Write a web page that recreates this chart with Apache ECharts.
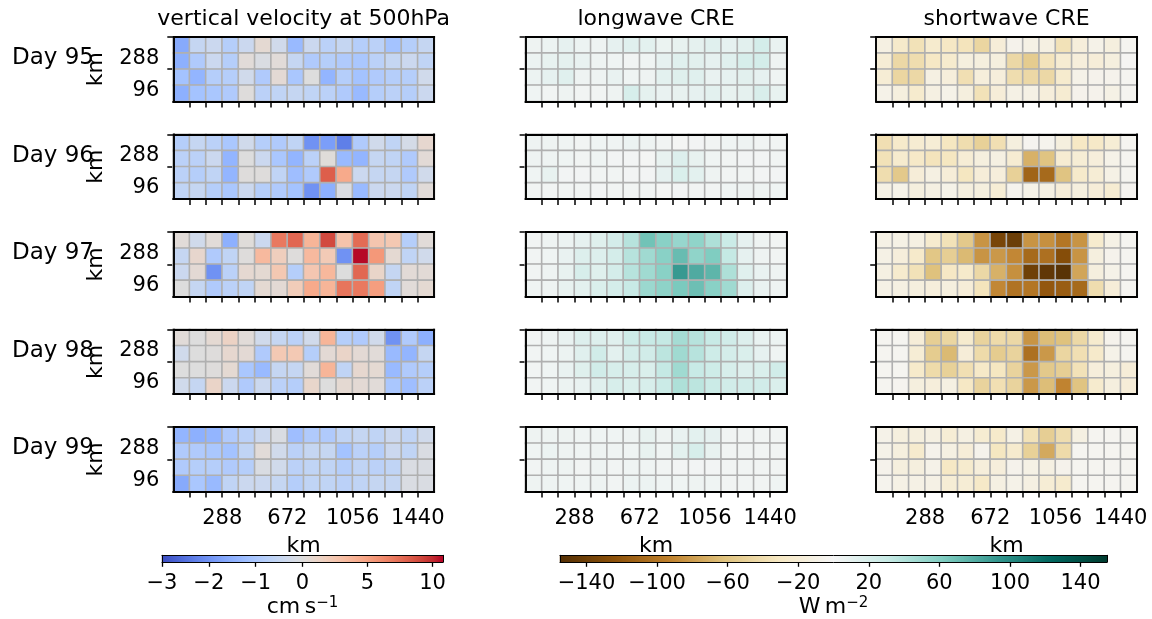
<!DOCTYPE html>
<html>
<head>
<meta charset="utf-8">
<script src="https://cdn.jsdelivr.net/npm/echarts@6/dist/echarts.min.js"></script>
<style>
html, body { margin: 0; padding: 0; background: #fff; }
#main { width: 1152px; height: 619px; }
</style>
</head>
<body>
<div id="main"></div>
<script>
// ---- data: 16 x 4 cells per day, rows listed top (y=288..384 km) to bottom (0..96 km)
var days = ['Day 95', 'Day 96', 'Day 97', 'Day 98', 'Day 99'];
var colTitles = ['vertical velocity at 500hPa', 'longwave CRE', 'shortwave CRE'];
var xTicks = [288, 672, 1056, 1440];
var yTicks = [96, 288];
var wTicksNeg = [-3, -2, -1, 0];
var wTicksPos = [5, 10];
var creTicks = [-140, -100, -60, -20, 20, 60, 100, 140];

// vertical velocity at 500hPa (cm s-1)
var w95 = [
  [-1.6, -0.5, -0.4, -0.8, -0.4, 0.6, -0.3, -1.3, -0.4, -0.7, -0.5, -0.8, -0.7, -1.1, -0.8, -0.5],
  [-1.5, -0.9, -0.4, -0.8, 0.3, -0.1, 0.3, -0.5, -0.9, -0.8, -0.9, -1.0, -0.7, -0.5, -0.4, -0.6],
  [-1.1, -1.4, -0.8, -0.8, -0.3, -0.9, 0.5, -1.0, 0.0, -1.4, -0.8, -1.1, -0.9, -0.8, -0.8, -0.3],
  [-1.5, -1.1, -1.0, -0.9, 0.1, -0.7, -0.6, -0.5, -0.6, -0.7, -0.9, -1.3, -0.8, -0.7, -0.8, -0.4]
];
var w96 = [
  [-0.8, -0.5, -0.7, -1.0, -0.3, -0.8, -0.9, -0.6, -2.0, -1.8, -2.3, -0.9, -0.3, -0.6, -0.2, 0.8],
  [-0.7, -0.7, -0.4, -1.4, 0.0, -0.4, -1.0, -1.4, -0.7, 0.2, -1.3, -1.4, -0.5, -0.6, -0.9, 0.4],
  [-0.7, -0.8, -0.6, -1.4, 0.1, 0.1, -0.6, -1.2, -0.9, 8.2, 4.5, -0.4, -0.5, -0.5, -0.9, -0.3],
  [-0.6, -0.5, -0.8, -1.0, -0.4, -0.8, -0.9, -1.1, -2.0, -1.5, -0.1, -1.3, -0.4, -0.4, -0.6, 0.3]
];
var w97 = [
  [0.3, -0.3, 0.3, -1.5, 0.2, -0.4, 7.0, 7.8, 3.8, 9.0, 2.8, 7.6, 2.6, 2.4, -0.8, 0.3],
  [-0.5, 0.9, -0.9, -0.6, 0.1, 3.5, 1.8, 0.1, 3.5, 2.2, -2.0, 10.7, 5.5, 0.6, -0.6, -0.3],
  [-0.4, 0.5, -2.0, -0.7, 0.7, 0.6, 2.4, -0.8, 2.5, 3.6, 0.0, 7.8, 1.1, -0.5, 0.4, 0.4],
  [0.0, -0.5, -0.9, -0.7, -0.6, 0.6, 0.5, 2.0, 4.5, 3.8, 7.2, 7.0, 5.2, -0.6, 0.3, 0.6]
];
var w98 = [
  [0.3, 0.0, 0.6, 1.4, 0.3, -0.3, -0.5, -0.7, -0.3, 3.8, -0.8, -0.9, -0.3, -2.0, -0.9, -1.5],
  [-0.3, 0.0, 0.1, 0.8, 0.5, -0.9, 2.3, 2.3, -0.8, 0.5, 1.2, 0.5, 0.3, -1.3, -1.4, -0.5],
  [0.0, 0.0, 0.1, 0.6, -1.0, -1.3, -0.5, -0.5, 0.3, 3.8, -0.6, 0.8, 0.6, -1.3, -0.9, -0.8],
  [-0.3, -0.5, 1.2, -0.4, -0.9, -0.4, -0.7, -0.8, 1.0, 0.0, 0.6, 0.5, 0.3, -1.0, -1.2, -0.7]
];
var w99 = [
  [-1.4, -1.5, -1.4, -0.9, -0.7, -0.4, -0.1, -1.2, -0.9, -0.9, -0.6, -0.5, -0.6, -0.4, -0.6, -0.3],
  [-0.9, -0.9, -1.0, -1.1, -0.6, 0.3, -0.3, -0.7, -0.5, -0.5, -1.1, -0.7, -0.8, -0.4, -0.6, -0.1],
  [-0.9, -0.8, -0.8, -0.9, -0.8, -0.1, -0.3, -0.7, -0.6, -0.6, -0.8, -0.6, -0.7, -0.6, -0.1, -0.1],
  [-1.6, -1.0, -1.3, -0.6, -0.4, -0.4, -0.5, -0.8, -0.6, -0.6, -0.7, -0.6, -0.5, -0.5, -0.1, -0.1]
];

// longwave CRE (W m-2)
var lw95 = [
  [5, 6, 10, 6, 5, 10, 14, 12, 7, 9, 11, 14, 10, 13, 22, 8],
  [6, 9, 11, 8, 5, 4, 3, 4, 10, 14, 13, 10, 14, 20, 22, 5],
  [6, 10, 14, 5, 5, 8, 4, 5, 12, 15, 14, 8, 10, 13, 10, 4],
  [4, 3, 5, 3, 3, 5, 20, 11, 8, 9, 10, 12, 9, 11, 19, 9]
];
var lw96 = [
  [5, 5, 4, 3, 4, 4, 6, 5, 3, 1, 2, 3, 4, 5, 3, 3],
  [5, 5, 4, 3, 4, 2, 2, 1, 9, 16, 9, 4, 3, 2, 2, 3],
  [4, 9, 2, 2, 3, 3, 2, 2, 10, 18, 12, 5, 3, 3, 2, 2],
  [3, 3, 3, 3, 2, 3, 3, 3, 1, 2, 3, 3, 4, 5, 5, 4]
];
var lw97 = [
  [3, 5, 6, 10, 15, 22, 38, 68, 58, 52, 55, 42, 28, 10, 5, 3],
  [3, 4, 8, 16, 16, 22, 38, 48, 58, 72, 55, 62, 32, 10, 5, 3],
  [3, 5, 9, 20, 15, 22, 38, 48, 58, 92, 82, 76, 42, 14, 8, 5],
  [4, 5, 9, 12, 18, 22, 30, 50, 56, 64, 70, 58, 48, 16, 8, 5]
];
var lw98 = [
  [3, 5, 8, 16, 16, 14, 26, 30, 32, 46, 38, 30, 24, 16, 8, 6],
  [3, 4, 6, 14, 24, 12, 22, 24, 36, 48, 38, 26, 22, 18, 10, 4],
  [3, 4, 8, 15, 24, 20, 20, 18, 32, 48, 30, 26, 20, 16, 18, 24],
  [3, 4, 6, 8, 14, 20, 18, 20, 28, 42, 36, 28, 24, 24, 24, 18]
];
var lw99 = [
  [5, 5, 5, 4, 4, 4, 5, 9, 5, 8, 12, 10, 3, 3, 3, 3],
  [4, 6, 5, 4, 5, 4, 4, 9, 4, 12, 20, 9, 3, 3, 3, 3],
  [3, 5, 5, 3, 5, 3, 4, 4, 3, 2, 2, 2, 3, 3, 3, 3],
  [5, 5, 4, 4, 5, 3, 6, 6, 4, 4, 5, 4, 3, 3, 3, 4]
];

// shortwave CRE (W m-2)
var sw95 = [
  [-12, -26, -36, -24, -30, -34, -46, -18, -6, -10, -12, -36, -16, -8, -14, -3],
  [-20, -44, -40, -30, -24, -14, -14, -14, -44, -54, -34, -22, -16, -18, -14, -2],
  [-20, -46, -44, -12, -16, -38, -16, -16, -40, -44, -44, -24, -8, -6, -6, -3],
  [-8, -14, -24, -12, -8, -14, -36, -18, -10, -10, -16, -22, -6, -6, -10, -3]
];
var sw96 = [
  [-38, -26, -22, -20, -32, -40, -50, -38, -14, -4, -5, -14, -30, -28, -20, -3],
  [-36, -24, -28, -34, -32, -20, -14, -12, -22, -70, -60, -22, -20, -16, -8, -3],
  [-40, -56, -18, -12, -18, -32, -18, -16, -50, -112, -108, -60, -26, -20, -10, -3],
  [-10, -8, -14, -12, -8, -14, -14, -20, -5, -8, -12, -18, -14, -18, -22, -4]
];
var sw97 = [
  [-10, -10, -12, -24, -36, -56, -84, -135, -142, -84, -86, -100, -84, -24, -10, -3],
  [-10, -16, -26, -58, -52, -66, -84, -82, -90, -108, -104, -128, -84, -14, -6, -3],
  [-12, -24, -36, -62, -30, -26, -44, -70, -86, -140, -148, -152, -76, -14, -8, -3],
  [-10, -12, -14, -16, -14, -18, -34, -90, -102, -100, -120, -116, -108, -40, -18, -3]
];
var sw98 = [
  [-3, -3, -18, -52, -46, -24, -48, -42, -44, -84, -64, -62, -44, -24, -6, -3],
  [-3, -3, -20, -54, -66, -18, -42, -54, -48, -104, -82, -46, -38, -26, -8, -3],
  [-3, -3, -26, -42, -50, -38, -28, -32, -48, -82, -56, -52, -36, -16, -14, -18],
  [-3, -4, -14, -16, -12, -30, -48, -38, -48, -82, -64, -92, -60, -24, -14, -18]
];
var sw99 = [
  [-8, -14, -14, -12, -20, -12, -22, -26, -10, -36, -52, -40, -12, -3, -3, -3],
  [-8, -14, -24, -6, -12, -18, -6, -32, -24, -50, -74, -42, -3, -3, -3, -3],
  [-6, -14, -14, -8, -30, -24, -16, -16, -6, -10, -12, -6, -3, -3, -3, -3],
  [-5, -10, -10, -10, -20, -20, -28, -12, -8, -12, -20, -24, -3, -3, -3, -3]
];

var panels = [
  [w95, lw95, sw95],
  [w96, lw96, sw96],
  [w97, lw97, sw97],
  [w98, lw98, sw98],
  [w99, lw99, sw99]
];

// colour scales
var wNorm = [-3, 0, 10.8];   // vmin, vcenter, vmax (two slope)
var creLimit = 155;
var coolwarm = ['#3b4cc0', '#445acc', '#4d68d7', '#5775e1', '#6282ea', '#6c8ef1', '#779af7', '#82a5fb',
  '#8db0fe', '#98b9ff', '#a3c2ff', '#aec9fd', '#b8d0f9', '#c2d5f4', '#ccd9ee', '#d5dbe6', '#dddddd',
  '#e5d8d1', '#ecd3c5', '#f1ccb9', '#f5c4ad', '#f7bba0', '#f7b194', '#f7a687', '#f49a7b', '#f18d6f',
  '#ec7f63', '#e57058', '#de604d', '#d55042', '#cb3e38', '#c0282f', '#b40426'];
var brbg = ['#543005', '#8c510a', '#bf812d', '#dfc27d', '#f6e8c3', '#f5f5f5', '#c7eae5', '#80cdc1',
  '#35978f', '#01665e', '#003c30'];

function twoSlope(v) {
  if (v < wNorm[1]) return 0.5 * (v - wNorm[0]) / (wNorm[1] - wNorm[0]);
  return 0.5 + 0.5 * (v - wNorm[1]) / (wNorm[2] - wNorm[1]);
}
function twoSlopeInv(t) {
  if (t < 0.5) return wNorm[0] + (wNorm[1] - wNorm[0]) * t / 0.5;
  return wNorm[1] + (wNorm[2] - wNorm[1]) * (t - 0.5) / 0.5;
}

function cells(grid, withNorm) {
  var out = [];
  grid.forEach(function (row, r) {
    row.forEach(function (v, i) {
      var y = grid.length - 1 - r;
      out.push(withNorm ? [i, y, v, twoSlope(v)] : [i, y, v]);
    });
  });
  return out;
}

function fmt(v) {
  return v < 0 ? '\u2212' + Math.abs(v) : String(v);
}

// ---- layout
var colL = [173.3, 525.6, 876.2];
var panelW = 260.8, panelH = 64.4;
var rowT0 = 37, rowStep = 97.55;
var nx = 16, ny = 4, cellKm = 96;
var FONT = 'DejaVu Sans';
var black = '#000';

var spine = { show: true, lineStyle: { color: black, width: 1.9, cap: 'square' } };
var majorTick = { show: true, length: 9, lineStyle: { color: black, width: 1.9 } };
var minorTick = { show: true, length: 6, lineStyle: { color: black, width: 1.5 } };
var tickLabel = { show: true, color: black, fontSize: 21, fontFamily: FONT };

var grids = [], xAxes = [], yAxes = [], series = [], graphics = [];
var wSeries = [], creSeries = [];
var xcats = [], ycats = [];
for (var i = 0; i < nx; i++) xcats.push(String(i * cellKm));
for (var j = 0; j < ny; j++) ycats.push(String(j * cellKm));

function hiddenValue(gi, min, max) {
  return { gridIndex: gi, type: 'value', min: min, max: max, show: false };
}

function addPanel(r, c) {
  var L = colL[c], T = rowT0 + r * rowStep, W = panelW, H = panelH;
  var full = nx * cellKm, fullY = ny * cellKm;
  var px = function (km) { return L + W * km / full; };
  var py = function (km) { return T + H - H * km / fullY; };
  var g = grids.length;
  grids.push({ left: L, top: T, width: W, height: H });
  grids.push({ left: px(96), top: T, width: px(1440) - px(96), height: py(192) - py(384) });
  grids.push({ left: px(xTicks[0]), top: py(yTicks[1]), width: px(xTicks[3]) - px(xTicks[0]), height: py(yTicks[0]) - py(yTicks[1]) });

  var xi = xAxes.length, yi = yAxes.length;
  var lastRow = r === panels.length - 1;
  // spines (box)
  xAxes.push({ gridIndex: g, type: 'category', data: xcats, position: 'bottom', z: 10,
    axisLine: spine, axisTick: { show: false }, axisLabel: { show: false },
    name: lastRow ? 'km' : '', nameLocation: 'middle', nameGap: 44,
    nameTextStyle: { color: black, fontSize: 22, fontFamily: FONT } });
  xAxes.push({ gridIndex: g, type: 'category', data: xcats, position: 'top', z: 10,
    axisLine: spine, axisTick: { show: false }, axisLabel: { show: false } });
  yAxes.push({ gridIndex: g, type: 'category', data: ycats, position: 'left', z: 10,
    axisLine: spine, axisTick: { show: false }, axisLabel: { show: false },
    name: c === 0 ? 'km' : '', nameLocation: 'middle', nameGap: 66, nameRotate: 90,
    nameTextStyle: { color: black, fontSize: 22, fontFamily: FONT } });
  yAxes.push({ gridIndex: g, type: 'category', data: ycats, position: 'right', z: 10,
    axisLine: spine, axisTick: { show: false }, axisLabel: { show: false } });

  // minor ticks every 96 km
  xAxes.push({ gridIndex: g + 1, type: 'value', min: 96, max: 1440, interval: 96, position: 'bottom',
    offset: py(0) - py(192), axisLine: { show: false }, splitLine: { show: false },
    axisTick: minorTick, axisLabel: { show: false } });
  yAxes.push({ gridIndex: g + 1, type: 'value', min: 192, max: 384, interval: 192, position: 'left',
    offset: px(96) - L, axisLine: { show: false }, splitLine: { show: false },
    axisTick: minorTick, axisLabel: { show: false } });

  // major ticks with labels
  xAxes.push({ gridIndex: g + 2, type: 'value', min: 0, max: xTicks[3] - xTicks[0], interval: xTicks[1] - xTicks[0],
    position: 'bottom', offset: py(0) - py(yTicks[0]), axisLine: { show: false }, splitLine: { show: false },
    axisTick: majorTick,
    axisLabel: lastRow ? Object.assign({}, tickLabel, { margin: 16,
      formatter: function (v) { return String(v + xTicks[0]); } }) : { show: false } });
  yAxes.push({ gridIndex: g + 2, type: 'value', min: 0, max: yTicks[1] - yTicks[0], interval: yTicks[1] - yTicks[0],
    position: 'left', offset: px(xTicks[0]) - L, axisLine: { show: false }, splitLine: { show: false },
    axisTick: majorTick,
    axisLabel: c === 0 ? Object.assign({}, tickLabel, { margin: 14,
      rich: { a: { fontSize: 21, fontFamily: FONT, color: black, padding: [10, 0, 0, 0] } },
      formatter: function (v) { return '{a|' + (v + yTicks[0]) + '}'; } }) : { show: false } });

  (c === 0 ? wSeries : creSeries).push(series.length);
  series.push({
    type: 'heatmap', xAxisIndex: xi, yAxisIndex: yi,
    data: cells(panels[r][c], c === 0),
    itemStyle: { borderColor: '#b0b0b0', borderWidth: 1.6 },
    emphasis: { disabled: true }, silent: true, progressive: 0
  });
}

for (var r = 0; r < panels.length; r++) {
  for (var c = 0; c < 3; c++) addPanel(r, c);
}

// titles and day labels
colTitles.forEach(function (t, c) {
  graphics.push({ type: 'text', x: colL[c] + panelW / 2, y: 19,
    style: { text: t, fill: black, font: '22px "' + FONT + '"', align: 'center', verticalAlign: 'middle' } });
});
days.forEach(function (d, r) {
  graphics.push({ type: 'text', x: 12, y: rowT0 + r * rowStep + 21,
    style: { text: d, fill: black, font: '23px "' + FONT + '"', align: 'left', verticalAlign: 'middle' } });
});

// ---- colour bars: heatmap strip (1 px per cell) + frame + tick axes
var cbTop = 555.3, cbH = 7;
var cbTick = { show: true, length: 4.5, lineStyle: { color: black, width: 1.3 } };
var cbLabel = { show: true, color: black, fontSize: 21, fontFamily: FONT, margin: 11 };
var thin = { show: true, lineStyle: { color: black, width: 1 } };
var unitStyle = {
  color: black, fontFamily: FONT,
  rich: {
    n: { fontSize: 22, lineHeight: 22, fontFamily: FONT, color: black },
    s: { fontSize: 15, lineHeight: 15, fontFamily: FONT, color: black, verticalAlign: 'top' }
  }
};

function addBar(left, width, unit, valueAt, isW) {
  var g = grids.length;
  grids.push({ left: left, top: cbTop, width: width, height: cbH });
  var cats = [], data = [];
  for (var k = 0; k < width; k++) {
    cats.push(String(k));
    var t = (k + 0.5) / width;
    data.push(isW ? [k, 0, twoSlopeInv(t), t] : [k, 0, valueAt(t)]);
  }
  var xi = xAxes.length, yi = yAxes.length;
  var none = { axisTick: { show: false }, axisLabel: { show: false } };
  xAxes.push(Object.assign({ gridIndex: g, type: 'category', data: cats, position: 'bottom', z: 10, axisLine: thin,
    name: unit, nameLocation: 'middle', nameGap: 34, nameTextStyle: unitStyle }, none));
  xAxes.push(Object.assign({ gridIndex: g, type: 'category', data: cats, position: 'top', z: 10, axisLine: thin }, none));
  yAxes.push(Object.assign({ gridIndex: g, type: 'category', data: ['0'], position: 'left', z: 10, axisLine: thin }, none));
  yAxes.push(Object.assign({ gridIndex: g, type: 'category', data: ['0'], position: 'right', z: 10, axisLine: thin }, none));
  (isW ? wSeries : creSeries).push(series.length);
  series.push({ type: 'heatmap', xAxisIndex: xi, yAxisIndex: yi, data: data,
    emphasis: { disabled: true }, silent: true, progressive: 0 });
}

function addTickAxis(left, width, min, max, interval, shift, showMin) {
  var g = grids.length;
  grids.push({ left: left, top: cbTop, width: width, height: cbH });
  xAxes.push({ gridIndex: g, type: 'value', min: min, max: max, interval: interval, position: 'bottom',
    axisLine: { show: false }, splitLine: { show: false }, axisTick: cbTick,
    axisLabel: Object.assign({}, cbLabel, { showMinLabel: showMin, formatter: function (v) { return fmt(v + shift); } }) });
  yAxes.push(hiddenValue(g, 0, 1));
}

// vertical velocity bar: two halves of equal length (two slope norm)
var cb1L = 162, cb1W = 281;
var half = cb1W / 2;
addBar(cb1L, cb1W, '{n|cm\u2009s}{s|\u22121}', null, true);
addTickAxis(cb1L, half, wTicksNeg[0], wTicksNeg[3], 1, 0, true);
addTickAxis(cb1L + half, half * wTicksPos[1] / wNorm[2], 0, wTicksPos[1], wTicksPos[0], 0, false);

// CRE bar
var cb2L = 560, cb2W = 547;
var pxPerW = cb2W / (2 * creLimit);
addBar(cb2L, cb2W, '{n|W\u2009m}{s|\u22122}', function (t) { return -creLimit + 2 * creLimit * t; }, false);
addTickAxis(cb2L + (creTicks[0] + creLimit) * pxPerW, (creTicks[7] - creTicks[0]) * pxPerW,
  0, creTicks[7] - creTicks[0], creTicks[1] - creTicks[0], creTicks[0], true);

var option = {
  animation: false,
  textStyle: { fontFamily: FONT },
  grid: grids,
  xAxis: xAxes,
  yAxis: yAxes,
  visualMap: [
    { type: 'continuous', show: false, seriesIndex: wSeries, dimension: 3, min: 0, max: 1,
      inRange: { color: coolwarm } },
    { type: 'continuous', show: false, seriesIndex: creSeries, dimension: 2, min: -creLimit, max: creLimit,
      inRange: { color: brbg } }
  ],
  graphic: graphics,
  series: series
};

var myChart = echarts.init(document.getElementById('main'));
myChart.setOption(option);
</script>
</body>
</html>
